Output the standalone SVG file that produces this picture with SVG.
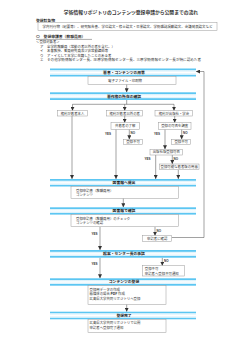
<svg xmlns="http://www.w3.org/2000/svg" width="250" height="354" viewBox="0 0 250 354">
<defs>
<linearGradient id="bn" x1="0" y1="0" x2="0" y2="1">
<stop offset="0" stop-color="#5cc6f2"/>
<stop offset="0.18" stop-color="#5cc6f2"/>
<stop offset="0.24" stop-color="#d4effb"/>
<stop offset="0.5" stop-color="#ffffff"/>
<stop offset="0.76" stop-color="#d4effb"/>
<stop offset="0.82" stop-color="#5cc6f2"/>
<stop offset="1" stop-color="#5cc6f2"/>
</linearGradient>
<marker id="ah" viewBox="0 0 4 4" refX="4" refY="2" markerWidth="4" markerHeight="4" markerUnits="userSpaceOnUse" orient="auto">
<path d="M0,0 L4,2 L0,4 Z" fill="#333"/>
</marker>
</defs>
<style>
text{font-family:"Noto Sans CJK JP","Noto Sans",sans-serif;fill:#333;}
.t{font-size:4.8px;font-weight:bold;}
.h{font-size:3.8px;font-weight:bold;}
.s{font-size:3.4px;}
.b{font-size:3.4px;}
.bt{font-size:3.8px;font-weight:bold;text-anchor:middle;fill:#222;}
.c{text-anchor:middle;}
.box{fill:#fff;stroke:#999;stroke-width:0.5;}
.bn{fill:url(#bn);}
.yn{font-family:"Liberation Sans",Arial,sans-serif;font-size:3px;font-weight:bold;}
.ln{fill:none;stroke:#444;stroke-width:0.5;}
.ar{fill:none;stroke:#444;stroke-width:0.5;marker-end:url(#ah);}
</style>
<rect width="250" height="354" fill="#fff"/>

<g id="header">
<text class="t c" x="131" y="14">学術情報リポジトリのコンテンツ登録申請から公開までの流れ</text>
<text class="h" x="36" y="21.5">登録対象物</text>
<rect class="box" x="38" y="22.5" width="179" height="8"/>
<text class="s c" x="127.5" y="27.8" textLength="170" lengthAdjust="spacingAndGlyphs">学内刊行物（紀要等）、研究報告書、学位論文・修士論文・卒業論文、学術雑誌掲載論文、会議発表論文など</text>
<text class="h" x="36" y="38.3">〇　登録申請者（教職員用）</text>
<line x1="36" y1="39.4" x2="92" y2="39.4" stroke="#333" stroke-width="0.4"/>
<text class="s" x="36" y="43">＜登録対象者＞</text>
<text class="s" x="40" y="47.5">ア</text>
<text class="s" x="47" y="47.5">全学的教職員（常勤の者以外の者を含む。）</text>
<text class="s" x="40" y="52">イ</text>
<text class="s" x="47" y="52">名誉教授、客員研究員及び非常勤講師等</text>
<text class="s" x="40" y="56.5">ウ</text>
<text class="s" x="47" y="56.5">ア・イとして本学に在籍したことのある者</text>
<text class="s" x="40" y="61">エ</text>
<text class="s" x="47" y="61" textLength="154" lengthAdjust="spacingAndGlyphs">その他学術情報センター長、庄原学術情報センター長、三原学術情報センター長が特に認めた者</text>
</g>

<g id="connectors">
<line class="ar" x1="126.7" y1="84.3" x2="126.7" y2="92.3"/>
<polyline class="ln" points="126.7,100 126.7,104.3"/>
<line class="ln" x1="72.5" y1="104.3" x2="174" y2="104.3"/>
<line class="ar" x1="72.5" y1="104.3" x2="72.5" y2="110.7"/>
<line class="ar" x1="124.7" y1="104.3" x2="124.7" y2="110.7"/>
<line class="ar" x1="174" y1="104.3" x2="174" y2="110.7"/>
<line class="ar" x1="72" y1="116" x2="72" y2="179"/>
<line class="ar" x1="124.7" y1="116" x2="124.7" y2="122.7"/>
<line class="ar" x1="174.7" y1="116" x2="174.7" y2="122.7"/>
<line class="ar" x1="116" y1="129.3" x2="116" y2="179"/>
<line class="ar" x1="129.3" y1="129.3" x2="129.3" y2="139.3"/>
<line class="ar" x1="165" y1="129.3" x2="165" y2="149.3"/>
<line class="ar" x1="181.7" y1="129.3" x2="181.7" y2="139.3"/>
<line class="ar" x1="155.7" y1="155" x2="155.7" y2="179"/>
<line class="ar" x1="172.3" y1="155" x2="172.3" y2="164"/>
<line class="ar" x1="178.3" y1="169.7" x2="178.3" y2="179"/>
<line class="ar" x1="123.3" y1="198.3" x2="123.3" y2="207.3"/>
<line class="ar" x1="100" y1="226.7" x2="100" y2="250"/>
<line class="ar" x1="155" y1="226.7" x2="155" y2="235.7"/>
<polyline class="ar" points="171.7,237.5 204,237.5 204,71.5 196,71.5"/>
<line class="ar" x1="100" y1="257.7" x2="100" y2="278.3"/>
<line class="ar" x1="162.3" y1="257.7" x2="162.3" y2="265.7"/>
<line class="ar" x1="126.7" y1="304.3" x2="126.7" y2="311.7"/>
<text class="yn" x="105" y="134.5">YES</text>
<text class="yn" x="130.5" y="133.8">NO</text>
<text class="yn" x="154" y="134.5">YES</text>
<text class="yn" x="183" y="133.8">NO</text>
<text class="yn" x="144.5" y="160">YES</text>
<text class="yn" x="173.5" y="159.5">NO</text>
<text class="yn" x="91.5" y="234.5">YES</text>
<text class="yn" x="156.5" y="231.8">NO</text>
<text class="yn" x="91.5" y="264.5">YES</text>
<text class="yn" x="164" y="262.3">NO</text>
</g>

<g id="n1">
<rect class="bn" x="50" y="68.5" width="146" height="8"/>
<text class="bt" x="124" y="73.9">著者・コンテンツの用意</text>
<rect class="box" x="88" y="76.5" width="88" height="7.8"/>
<text class="b c" x="125" y="81.7">電子ファイル・印刷物</text>
</g>
<g id="n2">
<rect class="bn" x="50" y="92.3" width="146" height="7.7"/>
<text class="bt" x="124" y="97.6">著作権の所在の確認</text>
</g>
<g id="nA">
<rect class="box" x="57.3" y="110.7" width="30.4" height="5.3"/>
<text class="b c" x="72.5" y="114.6">権利が著者本人</text>
</g>
<g id="nB">
<rect class="box" x="106.7" y="110.7" width="36" height="5.3"/>
<text class="b c" x="124.7" y="114.6">権利が著者以外の者</text>
</g>
<g id="nC">
<rect class="box" x="155" y="110.7" width="37.7" height="5.3"/>
<text class="b c" x="173.9" y="114.6">権利が出版社・学会</text>
</g>
<g id="nB1">
<rect class="box" x="111" y="122.7" width="28.3" height="6.6"/>
<text class="b c" x="125.2" y="127.2">共著者の了解</text>
</g>
<g id="nB2">
<rect class="box" x="123.3" y="139.3" width="19.4" height="5"/>
<text class="b c" x="133" y="143">登録不可</text>
</g>
<g id="nC1">
<rect class="box" x="158.3" y="122.7" width="32.7" height="6.6"/>
<text class="b c" x="174.7" y="127.2">登録の可否を調査</text>
</g>
<g id="nC2">
<rect class="box" x="171.7" y="139.3" width="19" height="5"/>
<text class="b c" x="181.2" y="143">登録不可</text>
</g>
<g id="nD">
<rect class="box" x="150" y="149.3" width="32.7" height="5.7"/>
<text class="b c" x="166.3" y="153.4">出版社版登録可否</text>
</g>
<g id="nE">
<rect class="box" x="159.3" y="164" width="39.7" height="5.7"/>
<text class="b c" x="179.2" y="168.1">登録可能な著者版の用意</text>
</g>
<g id="n3">
<rect class="bn" x="50" y="179" width="146" height="7.5"/>
<text class="bt" x="124" y="184.2">図書館へ提出</text>
<rect class="box" x="71" y="186.5" width="107.3" height="11.8"/>
<text class="b" x="76" y="191.5">登録申請書（教職員用）</text>
<text class="b" x="76" y="196">コンテンツ</text>
</g>
<g id="n4">
<rect class="bn" x="50" y="207.3" width="146" height="7.3"/>
<text class="bt" x="124" y="212.4">図書館で確認</text>
<rect class="box" x="71" y="214.6" width="107.3" height="12.1"/>
<text class="b" x="76" y="219.8">登録申請書（教職員用）のチェック</text>
<text class="b" x="76" y="224.3">コンテンツの確認</text>
</g>
<g id="nF">
<rect class="box" x="142.7" y="235.7" width="29" height="6"/>
<text class="b c" x="157.2" y="240">申請者に確認</text>
</g>
<g id="n5">
<rect class="bn" x="50" y="250" width="146" height="7.7"/>
<text class="bt" x="124" y="255.3">起案・センター長の承認</text>
</g>
<g id="nG">
<rect class="box" x="142.7" y="265.7" width="41.6" height="10.3"/>
<text class="b" x="144.8" y="270">登録不可</text>
<text class="b" x="144.8" y="274.5">申請者へ登録不可通知</text>
</g>
<g id="n6">
<rect class="bn" x="50" y="278.3" width="146" height="7.4"/>
<text class="bt" x="124" y="283.4">コンテンツの登録</text>
<rect class="box" x="88" y="285.7" width="78" height="18.6"/>
<text class="b" x="89.5" y="290.9">登録用データの作成</text>
<text class="b" x="89.5" y="295.4">紙媒体の場合 <tspan font-weight="bold">PDF</tspan> 作成</text>
<text class="b" x="89.5" y="299.9">広島県大学共同リポジトリへ登録</text>
</g>
<g id="n7">
<rect class="bn" x="50" y="311.7" width="146" height="7.6"/>
<text class="bt" x="124" y="316.9">登録完了</text>
<rect class="box" x="88" y="319.3" width="78" height="13"/>
<text class="b" x="89.5" y="324.3">広島県大学共同リポジトリで公開</text>
<text class="b" x="89.5" y="329">申請者へ登録完了通知</text>
</g>
</svg>
